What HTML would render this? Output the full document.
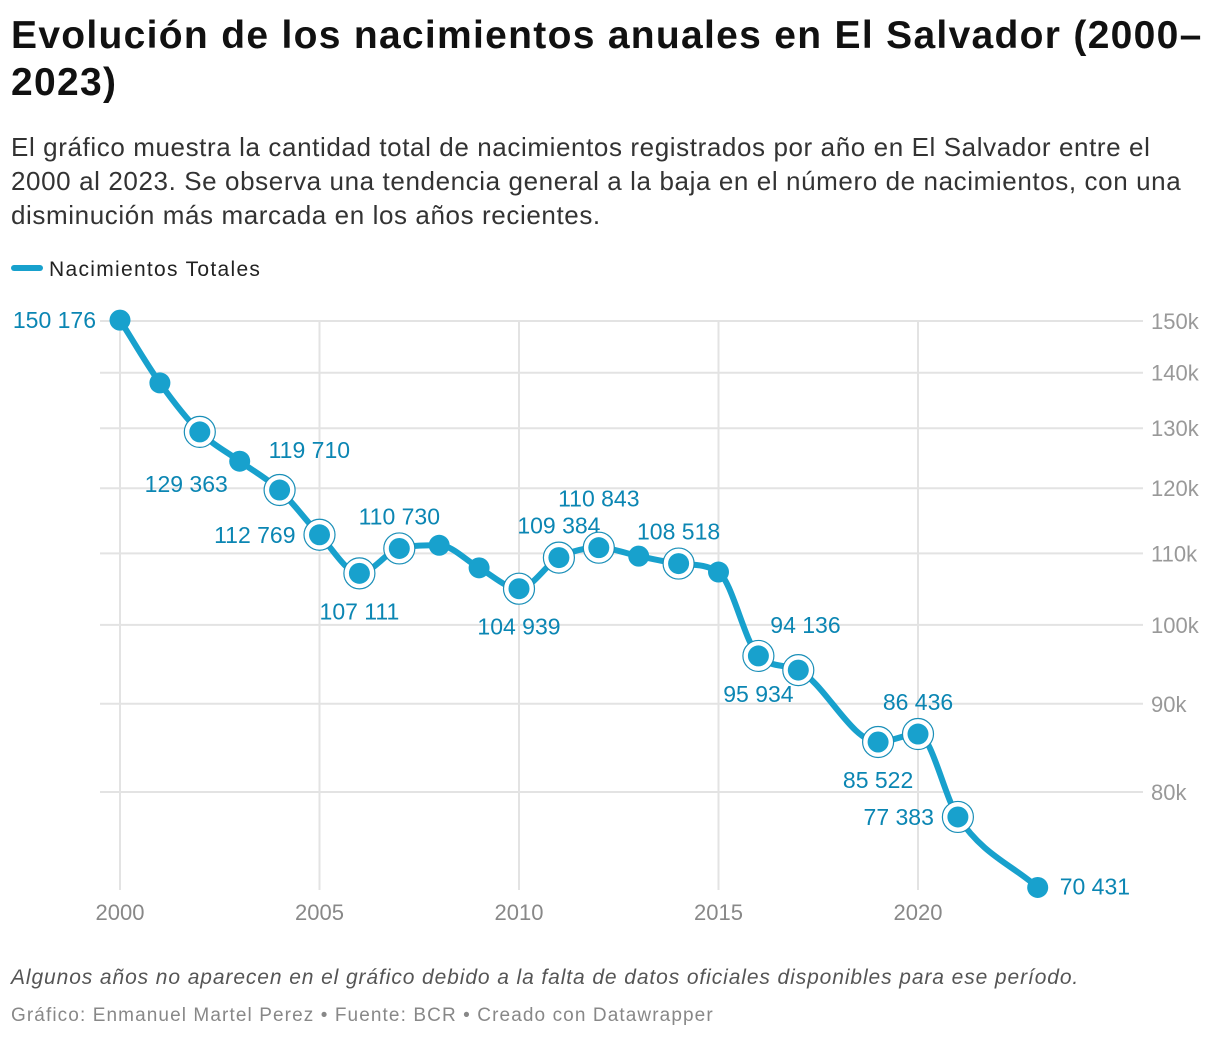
<!DOCTYPE html>
<html><head><meta charset="utf-8"><style>
body{margin:0;background:#fff;font-family:"Liberation Sans",sans-serif;}
.t{position:absolute;left:11px;top:12px;font-size:39px;font-weight:bold;line-height:47px;color:#111;width:1210px;letter-spacing:1.3px}
.s{position:absolute;left:11px;top:130px;font-size:26px;line-height:34px;color:#333;width:1210px;letter-spacing:0.6px}
.lg{position:absolute;left:11px;top:258px;font-size:21px;color:#222;letter-spacing:1.3px}
.lg i{display:inline-block;width:32px;height:6px;border-radius:3px;background:#18a1cd;vertical-align:middle;margin-right:6px;position:relative;top:-2px}
.n{position:absolute;left:11px;top:966px;font-size:21px;font-style:italic;color:#555;letter-spacing:0.9px}
.c{position:absolute;left:11px;top:1005px;font-size:19px;color:#888;letter-spacing:1.1px}
</style></head><body>
<div class="t">Evolución de los nacimientos anuales en El Salvador (2000–<br>2023)</div>
<div class="s">El gráfico muestra la cantidad total de nacimientos registrados por año en El Salvador entre el<br>2000 al 2023. Se observa una tendencia general a la baja en el número de nacimientos, con una<br>disminución más marcada en los años recientes.</div>
<div class="lg"><i></i>Nacimientos Totales</div>
<svg id="ch" width="1220" height="1042" style="position:absolute;left:0;top:0"></svg>
<div class="n">Algunos años no aparecen en el gráfico debido a la falta de datos oficiales disponibles para ese período.</div>
<div class="c">Gráfico: Enmanuel Martel Perez • Fuente: BCR • Creado con Datawrapper</div>
<script>
const years=[2000,2001,2002,2003,2004,2005,2006,2007,2008,2009,2010,2011,2012,2013,2014,2015,2016,2017,2019,2020,2021,2023];
const births=[150176,138100,129363,124400,119710,112769,107111,110730,111200,107900,104939,109384,110843,109600,108518,107300,95934,94136,85522,86436,77383,70431];
const labelPlace=["L","","BL","","AR","L","B","A","","","B","A","AH","","A","","B","AR2","B","A","L","R"];
const yTicks=[80000,90000,100000,110000,120000,130000,140000,150000];
const yTickLabels=["80k","90k","100k","110k","120k","130k","140k","150k"];
const xTicks=[2000,2005,2010,2015,2020];
const NS="http://www.w3.org/2000/svg",svg=document.getElementById('ch');
const X=y=>120+(y-2000)*39.9;
const Y=v=>321+749.3*Math.log(150000/v);
function mk(t,a,p){const e=document.createElementNS(NS,t);for(const k in a)e.setAttribute(k,a[k]);(p||svg).appendChild(e);return e;}
const fmt=v=>String(v).replace(/\B(?=(\d{3})+(?!\d))/g,' ');
yTicks.forEach((v,i)=>{
 const l=mk('line',{x1:100,x2:1143,y1:Y(v),y2:Y(v),stroke:'#e3e3e3','stroke-width':2});
 
 const t=mk('text',{x:1151,y:Y(v)+8,'font-size':22,fill:'#999'});t.textContent=yTickLabels[i];
 
});
xTicks.forEach(yr=>{
 const l=mk('line',{x1:X(yr),x2:X(yr),y1:321,y2:890,stroke:'#e3e3e3','stroke-width':2});
 
 const t=mk('text',{x:X(yr),y:920,'font-size':22,fill:'#888','text-anchor':'middle'});t.textContent=yr;
 
});
const px=years.map(X),py=births.map(Y),n=px.length;
const sl=[];for(let i=0;i<n-1;i++)sl.push((py[i+1]-py[i])/(px[i+1]-px[i]));
const m=[sl[0]];for(let i=1;i<n-1;i++){m.push(sl[i-1]*sl[i]<=0?0:(sl[i-1]+sl[i])/2);}m.push(sl[n-2]);
for(let i=0;i<n-1;i++){if(sl[i]===0){m[i]=m[i+1]=0;continue;}const a=m[i]/sl[i],b=m[i+1]/sl[i],h=a*a+b*b;if(h>9){const t=3/Math.sqrt(h);m[i]=t*a*sl[i];m[i+1]=t*b*sl[i];}}
let d=`M${px[0]},${py[0]}`;
for(let i=0;i<n-1;i++){const dx=(px[i+1]-px[i])/3;d+=`C${px[i]+dx},${py[i]+m[i]*dx} ${px[i+1]-dx},${py[i+1]-m[i+1]*dx} ${px[i+1]},${py[i+1]}`;}
const path=mk('path',{d,fill:'none',stroke:'#18a1cd','stroke-width':6,'stroke-linejoin':'round'});

const off={L:[-24,8,'end'],R:[22,7,'start'],B:[0,46,'middle'],BL:[28,60,'end'],A:[0,-24,'middle'],AH:[0,-41,'middle'],AR:[-11,-32,'start'],AR2:[-28,-37,'start']};
years.forEach((yr,i)=>{
 const x=px[i],y=py[i],p=labelPlace[i];
 if(p&&i>0&&i<n-1){const r=mk('circle',{cx:x,cy:y,r:15.5,fill:'#fff',stroke:'#1a8fb8','stroke-width':1.2});
  }
 const c=mk('circle',{cx:x,cy:y,r:10.5,fill:'#18a1cd'});
 
 if(p){const o=off[p];const t=mk('text',{x:x+o[0],y:y+o[1],'font-size':23,fill:'#0b86b3','text-anchor':o[2]});t.textContent=fmt(births[i]);
  }
});
</script>
</body></html>
